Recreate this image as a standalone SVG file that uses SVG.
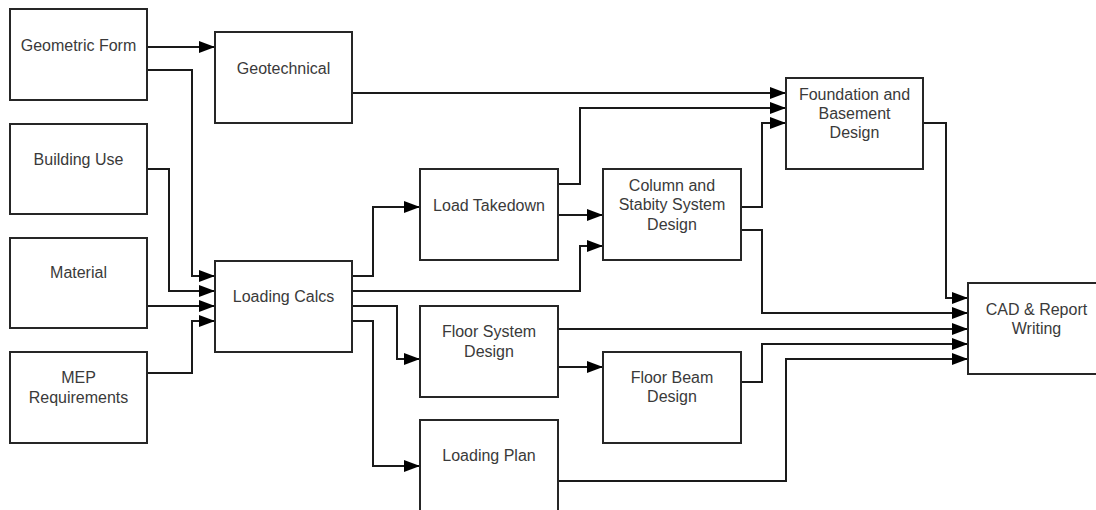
<svg xmlns="http://www.w3.org/2000/svg" width="1096" height="510" viewBox="0 0 1096 510">
<defs>
<style>
.box{fill:#fff;stroke:#262626;stroke-width:2}
.lbl{font-family:"Liberation Sans",Arial,sans-serif;font-size:16px;fill:#3a3a3a;text-anchor:middle}
.con{fill:none;stroke:#1a1a1a;stroke-width:2;marker-end:url(#ah)}
</style>
<marker id="ah" markerUnits="userSpaceOnUse" markerWidth="17" markerHeight="13" refX="16" refY="6" orient="auto" viewBox="0 0 17 13">
<path d="M0,0 L16,6 L0,12 z" fill="#000"/>
</marker>
</defs>
<rect width="1096" height="510" fill="#fff"/>
<g id="connectors">
<path class="con" d="M147,47 H215"/>
<path class="con" d="M147,70 H192 V276 H215"/>
<path class="con" d="M147,169 H169 V291 H215"/>
<path class="con" d="M147,306 H215"/>
<path class="con" d="M147,373 H192 V321 H215"/>
<path class="con" d="M352,276 H373 V207 H420"/>
<path class="con" d="M352,291 H580 V246 H603"/>
<path class="con" d="M352,306 H397 V359 H420"/>
<path class="con" d="M352,321 H373 V466 H420"/>
<path class="con" d="M352,93 H786"/>
<path class="con" d="M558,184 H580 V108 H786"/>
<path class="con" d="M558,215 H603"/>
<path class="con" d="M741,207 H762 V123 H786"/>
<path class="con" d="M741,230 H762 V313 H968"/>
<path class="con" d="M923,123 H946 V298 H968"/>
<path class="con" d="M558,329 H968"/>
<path class="con" d="M558,367 H603"/>
<path class="con" d="M741,382 H762 V344 H968"/>
<path class="con" d="M558,481 H786 V359 H968"/>
</g>
<g id="geometric_form"><rect class="box" x="10" y="9" width="137" height="91"/><text class="lbl" x="78.5" y="51">Geometric Form</text></g>
<g id="building_use"><rect class="box" x="10" y="124" width="137" height="90"/><text class="lbl" x="78.5" y="165">Building Use</text></g>
<g id="material"><rect class="box" x="10" y="238" width="137" height="90"/><text class="lbl" x="78.5" y="278">Material</text></g>
<g id="mep"><rect class="box" x="10" y="352" width="137" height="91"/><text class="lbl" x="78.5" y="382.5">MEP</text><text class="lbl" x="78.5" y="402.5">Requirements</text></g>
<g id="geotechnical"><rect class="box" x="215" y="32" width="137" height="91"/><text class="lbl" x="283.5" y="73.5">Geotechnical</text></g>
<g id="loading_calcs"><rect class="box" x="215" y="261" width="137" height="91"/><text class="lbl" x="283.5" y="301.5">Loading Calcs</text></g>
<g id="load_takedown"><rect class="box" x="420" y="169" width="138" height="91"/><text class="lbl" x="489" y="210.5">Load Takedown</text></g>
<g id="column"><rect class="box" x="603" y="169" width="138" height="91"/><text class="lbl" x="672" y="190.5">Column and</text><text class="lbl" x="672" y="210">Stabity System</text><text class="lbl" x="672" y="229.5">Design</text></g>
<g id="floor_system"><rect class="box" x="420" y="306" width="138" height="91"/><text class="lbl" x="489" y="337">Floor System</text><text class="lbl" x="489" y="356.5">Design</text></g>
<g id="floor_beam"><rect class="box" x="603" y="352" width="138" height="91"/><text class="lbl" x="672" y="383">Floor Beam</text><text class="lbl" x="672" y="402">Design</text></g>
<g id="loading_plan"><rect class="box" x="420" y="420" width="138" height="91"/><text class="lbl" x="489" y="461">Loading Plan</text></g>
<g id="foundation"><rect class="box" x="786" y="78" width="137" height="91"/><text class="lbl" x="854.5" y="99.5">Foundation and</text><text class="lbl" x="854.5" y="119">Basement</text><text class="lbl" x="854.5" y="138">Design</text></g>
<g id="cad"><rect class="box" x="968" y="283" width="137" height="91"/><text class="lbl" x="1036.5" y="315">CAD &amp; Report</text><text class="lbl" x="1036.5" y="334">Writing</text></g>
</svg>
